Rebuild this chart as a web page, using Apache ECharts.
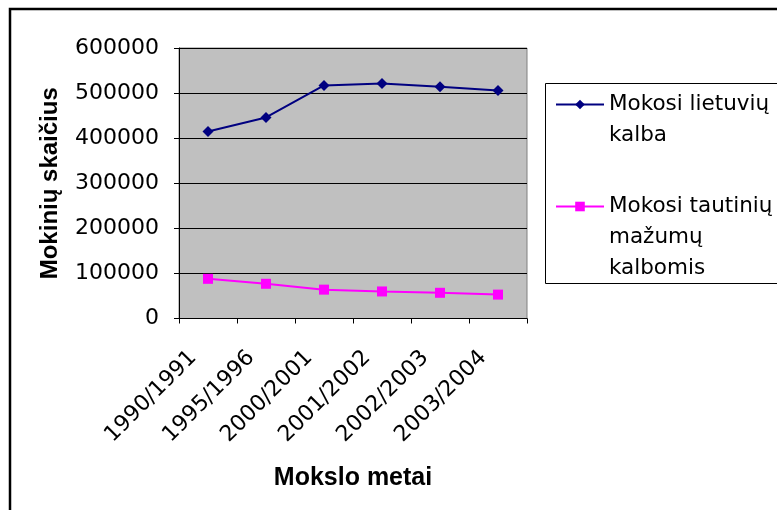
<!DOCTYPE html>
<html>
<head>
<meta charset="utf-8">
<script src="https://cdn.jsdelivr.net/npm/echarts@6/dist/echarts.min.js"></script>
<style>
  html, body { margin: 0; padding: 0; background: #fff; }
  #chart { width: 777px; height: 510px; }
</style>
</head>
<body>
<div id="chart"></div>
<script>
// School years
var schoolYears = ['1990/1991', '1995/1996', '2000/2001', '2001/2002', '2002/2003', '2003/2004'];
// Pupils taught in Lithuanian
var lithuanianPupils = [415000, 446000, 517000, 521000, 514000, 506000];
// Pupils taught in national minority languages
var minorityPupils = [88000, 77000, 64000, 60000, 57000, 53000];
// Value axis ticks
var yMin = 0, yMax = 600000, yStep = 100000;

var seriesNames = ['Mokosi lietuvių kalba', 'Mokosi tautinių mažumų kalbomis'];
// Wrapped legend text; leading blank lines keep the icon on the first line
var legendText = {
  'Mokosi lietuvių kalba': '\nMokosi lietuvių\nkalba',
  'Mokosi tautinių mažumų kalbomis': '\n\nMokosi tautinių\nmažumų\nkalbomis'
};

var plainFont = 'DejaVu Sans';
var boldFont = 'Liberation Sans';

var legendBase = {
  orient: 'vertical',
  left: 555,
  padding: 0,
  itemWidth: 48,
  itemHeight: 12,
  itemGap: 0,
  selectedMode: false,
  formatter: function (name) { return legendText[name]; },
  textStyle: { fontFamily: plainFont, fontSize: 21.5, color: '#000', lineHeight: 31, padding: [0, 0, 0, 0] }
};

var chart = echarts.init(document.getElementById('chart'));
chart.setOption({
  backgroundColor: '#fff',
  animation: false,
  graphic: [
    { type: 'rect', shape: { x: 10, y: 9, width: 820, height: 560 },
      style: { fill: null, stroke: '#000', lineWidth: 2.5 }, silent: true, z: -1 },
    { type: 'rect', shape: { x: 545.5, y: 83.5, width: 300, height: 200 },
      style: { fill: '#fff', stroke: '#000', lineWidth: 1 }, silent: true, z: -1 }
  ],
  legend: [
    Object.assign({}, legendBase, { top: 58, data: [seriesNames[0]] }),
    Object.assign({}, legendBase, { top: 129, data: [seriesNames[1]] })
  ],
  grid: {
    left: 179, right: 250, top: 48, bottom: 191.5,
    show: true, backgroundColor: '#c0c0c0', borderColor: '#808080', borderWidth: 1
  },
  xAxis: {
    type: 'category',
    data: schoolYears,
    boundaryGap: true,
    name: 'Mokslo metai',
    nameLocation: 'middle',
    nameGap: 147,
    nameTextStyle: { fontFamily: boldFont, fontWeight: 'bold', fontSize: 25, color: '#000' },
    axisLine: { lineStyle: { color: '#000', width: 1 } },
    axisTick: { show: true, alignWithLabel: false, length: 5, lineStyle: { color: '#000' } },
    axisLabel: {
      rotate: 45, margin: 21, padding: [0, 21, 0, 0],
      fontFamily: plainFont, fontSize: 22, color: '#000', interval: 0
    },
    splitLine: { show: false }
  },
  yAxis: {
    type: 'value',
    min: yMin, max: yMax, interval: yStep,
    name: 'Mokinių skaičius',
    nameLocation: 'middle',
    nameGap: 117,
    nameTextStyle: { fontFamily: boldFont, fontWeight: 'bold', fontSize: 24, color: '#000' },
    axisLine: { show: true, lineStyle: { color: '#000', width: 1 } },
    axisTick: { show: true, length: 5, lineStyle: { color: '#000' } },
    axisLabel: {
      margin: 20, fontFamily: plainFont, fontSize: 22, color: '#000',
      formatter: function (v) { return String(v); }
    },
    splitLine: { show: true, lineStyle: { color: '#000', width: 1 } }
  },
  series: [
    {
      name: seriesNames[0], type: 'line', data: lithuanianPupils,
      symbol: 'diamond', symbolSize: 11,
      lineStyle: { color: '#000080', width: 2 },
      itemStyle: { color: '#000080' }
    },
    {
      name: seriesNames[1], type: 'line', data: minorityPupils,
      symbol: 'rect', symbolSize: 10,
      lineStyle: { color: '#ff00ff', width: 2 },
      itemStyle: { color: '#ff00ff' }
    }
  ]
});
</script>
</body>
</html>
